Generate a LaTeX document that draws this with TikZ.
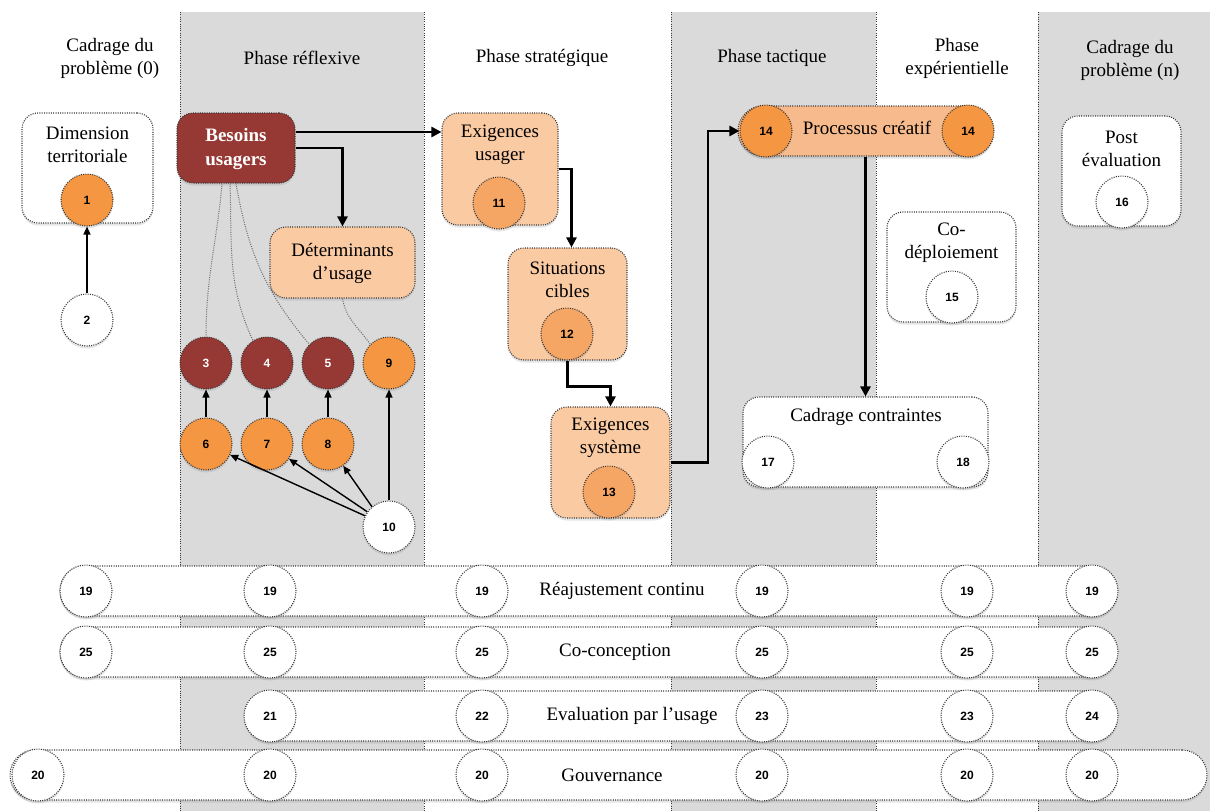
\documentclass[tikz,border=0pt]{standalone}
\usepackage{fontspec}
\setmainfont{Liberation Serif}
\newfontfamily\numfont{Liberation Sans}
\usetikzlibrary{arrows.meta,shadows,calc}

\definecolor{bandgray}{RGB}{218,218,218}
\definecolor{darkred}{RGB}{150,56,52}
\definecolor{orangeA}{RGB}{245,150,66}
\definecolor{orangeB}{RGB}{246,166,100}
\definecolor{peach}{RGB}{250,202,163}
\definecolor{peachB}{RGB}{247,186,140}
\definecolor{dotgray}{RGB}{55,55,55}

\tikzset{
  dotborder/.style={draw=dotgray, line width=1.1pt, dash pattern=on 1pt off 1.3pt},
  softshadow/.style={drop shadow={opacity=0.2, shadow xshift=0pt, shadow yshift=-2.5pt}},
  rbox/.style={dotborder, rounded corners=16pt, inner sep=0pt, softshadow},
  numc/.style={circle, dotborder, minimum size=52pt, inner sep=0pt,
    font=\numfont\bfseries\fontsize{12}{12}\selectfont, softshadow},
  head/.style={align=center, font=\fontsize{19}{23}\selectfont},
  lbl/.style={align=center, font=\fontsize{19}{23}\selectfont},
  bar/.style={dotborder, fill=white, rounded corners=25pt, inner sep=0pt, minimum height=50pt, softshadow},
  flow/.style={line width=2.6pt, -{Triangle[length=10pt,width=10pt]}},
  thinarrow/.style={line width=1.4pt, -{Triangle[length=8pt,width=7pt]}},
  link/.style={draw=gray!85!black, line width=1pt, dash pattern=on 1pt off 1.3pt},
  vline/.style={draw=dotgray, line width=1pt, dash pattern=on 1pt off 1.3pt}
}

\begin{document}
\begin{tikzpicture}[x=1pt,y=-1pt]
\useasboundingbox (0,0) rectangle (1210,811);
\fill[white] (0,0) rectangle (1210,811);

% bands
\fill[bandgray] (180,12) rectangle (424,811);
\fill[bandgray] (671,12) rectangle (876,811);
\fill[bandgray] (1038,12) rectangle (1210,811);
\foreach \x in {180,424,671,876,1038} \draw[vline] (\x,12) -- (\x,811);

% headers
\node[head] (h0) at (110,58) {Cadrage du\\problème (0)};
\node[head] (h1) at (302,58) {Phase réflexive};
\node[head] (h2) at (542,58) {Phase stratégique};
\node[head] (h3) at (772,58) {Phase tactique};
\node[head] (h4) at (957,58) {Phase\\expérientielle};
\node[head] (h5) at (1130,60) {Cadrage du\\problème (n)};

% bottom bars
\node[bar, minimum width=1057pt] (reaj) at (588.5,591) {};
\node[bar, minimum width=1057pt] (cocon) at (588.5,652) {};
\node[bar, minimum width=872pt] (evalbar) at (681,716) {};
\node[bar, minimum width=1197pt] (gouv) at (608.5,775) {};
\node[lbl] (reajt) at (622,591) {Réajustement continu};
\node[lbl] (cocont) at (615,652) {Co-conception};
\node[lbl] (evalt) at (632,716) {Evaluation par l’usage};
\node[lbl] (gouvt) at (612,775) {Gouvernance};
\foreach \x/\n [count=\i] in {86/19,270/19,482/19,762/19,967/19,1092/19}
  \node[numc, fill=white] (ra\i) at (\x,591) {\n};
\foreach \x/\n [count=\i] in {86/25,270/25,482/25,762/25,967/25,1092/25}
  \node[numc, fill=white] (co\i) at (\x,652) {\n};
\foreach \x/\n [count=\i] in {270/21,482/22,762/23,967/23,1092/24}
  \node[numc, fill=white] (ev\i) at (\x,716) {\n};
\foreach \x/\n [count=\i] in {38/20,270/20,482/20,762/20,967/20,1092/20}
  \node[numc, fill=white] (go\i) at (\x,775) {\n};

% boxes
\node[rbox, fill=white, minimum width=131pt, minimum height=110pt] (dim) at (87.5,168) {};
\node[lbl] (dimt) at (87.5,145) {Dimension\\territoriale};
\node[numc, fill=orangeA] (n1) at (87,200) {1};
\node[numc, fill=white] (n2) at (87,320) {2};

\node[rbox, fill=darkred, minimum width=118pt, minimum height=70pt] (besoins) at (236,148) {};
\node[lbl, text=white, font=\bfseries\fontsize{19}{24}\selectfont] (besoinst) at (236,149) {Besoins\\usagers};

\node[rbox, fill=peach, minimum width=145pt, minimum height=71pt] (det) at (342.5,262.5) {};
\node[lbl] (dett) at (342.5,263) {Déterminants\\d’usage};

\node[rbox, fill=peach, minimum width=116pt, minimum height=112pt] (exig1) at (500,169) {};
\node[lbl] (exig1t) at (500,145) {Exigences\\usager};
\node[numc, fill=orangeB] (n11) at (499,203) {11};

\node[rbox, fill=peach, minimum width=119pt, minimum height=112pt] (sit) at (567.5,304) {};
\node[lbl] (sitt) at (567.5,280) {Situations\\cibles};
\node[numc, fill=orangeB] (n12) at (567,334) {12};

\node[rbox, fill=peach, minimum width=119pt, minimum height=111pt] (exsys) at (610.5,462.5) {};
\node[lbl] (exsyst) at (610.5,438) {Exigences\\système};
\node[numc, fill=orangeB] (n13) at (609,492) {13};

\node[dotborder, fill=peachB, rounded corners=25pt, inner sep=0pt, softshadow,
      minimum width=255pt, minimum height=50pt] (proc) at (865.5,131) {};
\node[lbl] (proct) at (867,128) {Processus créatif};
\node[numc, fill=orangeA] (n14a) at (766,131) {14};
\node[numc, fill=orangeA] (n14b) at (968,131) {14};

\node[rbox, fill=white, minimum width=245pt, minimum height=90pt] (cc) at (865.5,442) {};
\node[lbl] (cct) at (866,417) {Cadrage contraintes};
\node[numc, fill=white] (n17) at (768,462) {17};
\node[numc, fill=white] (n18) at (963,462) {18};

\node[rbox, fill=white, minimum width=129pt, minimum height=110pt] (codep) at (951.5,267) {};
\node[lbl] (codept) at (951.5,243) {Co-\\déploiement};
\node[numc, fill=white] (n15) at (952,297) {15};

\node[rbox, fill=white, minimum width=119pt, minimum height=110pt] (post) at (1121.5,171) {};
\node[lbl] (postt) at (1121.5,149) {Post\\évaluation};
\node[numc, fill=white] (n16) at (1122,202) {16};

% small circles of the reflexive phase
\node[numc, fill=darkred, text=white] (n3) at (206,363) {3};
\node[numc, fill=darkred, text=white] (n4) at (267,363) {4};
\node[numc, fill=darkred, text=white] (n5) at (328,363) {5};
\node[numc, fill=orangeA] (n9) at (389,363) {9};
\node[numc, fill=orangeA] (n6) at (206,444) {6};
\node[numc, fill=orangeA] (n7) at (267,444) {7};
\node[numc, fill=orangeA] (n8) at (328,444) {8};
\node[numc, fill=white] (n10) at (389,527) {10};

% dotted links
\draw[link] ([xshift=-14pt]besoins.south) to[out=-95,in=90] (n3.north);
\draw[link] ([xshift=-6pt]besoins.south) to[out=-88,in=115] (n4.122);
\draw[link] (besoins.south) to[out=-80,in=130] (n5.135);
\draw[link] (det.south) to[out=-80,in=125] (n9.135);

% flow arrows
\coordinate (b1) at ([yshift=16pt]besoins.east);
\draw[flow] (b1) -- (b1 -| exig1.west);
\draw[flow] (besoins.east) -| (det.north);
\draw[flow] (exig1.east) -| ([xshift=4pt]sit.north);
\draw[flow] (sit.south) -- ++(0,26) -| (exsys.north);
\coordinate (bendA) at (708,131);
\draw[flow] (exsys.east) -| (bendA) -- (n14a.west);
\draw[flow] (proc.south) -- (cc.north);

% thin arrows
\draw[thinarrow] (n2) -- (n1);
\draw[thinarrow] (n6) -- (n3);
\draw[thinarrow] (n7) -- (n4);
\draw[thinarrow] (n8) -- (n5);
\draw[thinarrow] (n10) -- (n9);
\draw[thinarrow] (n10.155) -- (n6);
\draw[thinarrow] (n10.145) -- (n7);
\draw[thinarrow] (n10.130) -- (n8);
\end{tikzpicture}
\end{document}
